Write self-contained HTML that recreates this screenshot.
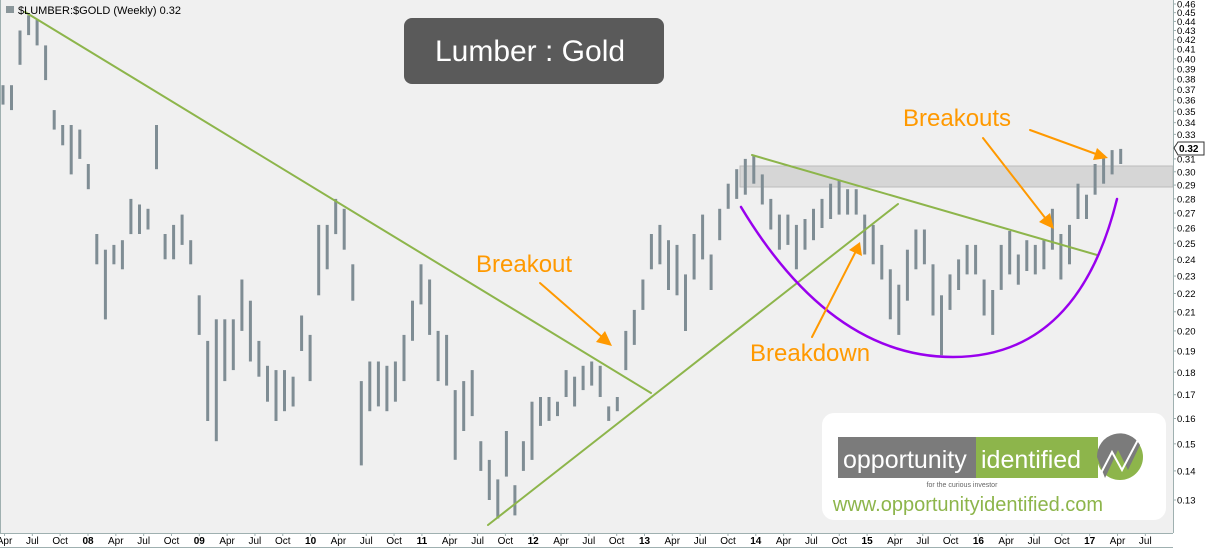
<!DOCTYPE html>
<html><head><meta charset="utf-8"><style>
body{margin:0;background:#fff;}
svg{display:block;font-family:"Liberation Sans",sans-serif;}
</style></head><body>
<svg id="chart" width="1208" height="548" viewBox="0 0 1208 548" xmlns="http://www.w3.org/2000/svg">
<rect x="0" y="0" width="1173" height="533" fill="#f0f0f0"/>
<g id="grid"></g>
<rect x="740" y="166" width="433" height="21" fill="#d6d6d6" stroke="#bcbcbc" stroke-width="1"/>
<g id="bars"></g>
<g stroke-linecap="round">
<line x1="25" y1="12" x2="651" y2="393" stroke="#8db54b" stroke-width="2"/>
<line x1="488" y1="525" x2="898" y2="204" stroke="#8db54b" stroke-width="2"/>
<line x1="752" y1="155" x2="1097" y2="255" stroke="#8db54b" stroke-width="2"/>
<path d="M741,207 C800,305 870,357 953,357 C1040,357 1092,300 1117,199" fill="none" stroke="#9900ee" stroke-width="2.5"/>
<g fill="#ff9900" stroke="#ff9900" stroke-width="2">
<line x1="540" y1="283" x2="602" y2="337"/><polygon stroke="none" points="612,346 596,342 605,331"/>
<line x1="812" y1="337" x2="855" y2="253"/><polygon stroke="none" points="860,242 849,250 862,256"/>
<line x1="983" y1="138" x2="1046" y2="219"/><polygon stroke="none" points="1054,229 1039,222 1050,213"/>
<line x1="1030" y1="130" x2="1096" y2="154"/><polygon stroke="none" points="1108,158 1093,160 1097,148"/>
</g>
<text x="476" y="272" font-size="24" fill="#ff9900">Breakout</text>
<text x="750" y="361" font-size="24" fill="#ff9900">Breakdown</text>
<text x="903" y="126" font-size="24" fill="#ff9900">Breakouts</text>
</g>
<g>
<rect x="404" y="18" width="260" height="66" rx="8" fill="#5a5a5a"/>
<text x="530" y="61" font-size="30" fill="#fff" text-anchor="middle">Lumber : Gold</text>
</g>
<g>
<rect x="822" y="413" width="344" height="107" rx="12" fill="#ffffff"/>
<rect x="838" y="437" width="138" height="41" fill="#7b7b7b"/>
<rect x="976" y="437" width="122" height="41" fill="#8db54b"/>
<text x="843" y="468" font-size="25" fill="#fff">opportunity</text>
<text x="981" y="468" font-size="25" fill="#fff">identified</text>
<circle cx="1120" cy="457" r="23" fill="#8db54b"/>
<path d="M1097,457 A23,23 0 0 1 1140,445 L1128,470 L1118,450 L1105,478 Z" fill="#7b7b7b"/>
<path d="M1100,475 L1112,452 L1122,470 L1140,436" fill="none" stroke="#fff" stroke-width="2"/>
<text x="962" y="487" font-size="7" fill="#666" text-anchor="middle">for the curious investor</text>
<text x="968" y="511" font-size="20" fill="#8db54b" text-anchor="middle">www.opportunityidentified.com</text>
</g>
<text x="18" y="14" font-size="11" font-family="Liberation Sans,sans-serif" fill="#000">$LUMBER:$GOLD (Weekly) 0.32</text>
<rect x="6" y="6" width="8" height="7" fill="#8a969a"/>
<line x1="1173.5" y1="0" x2="1173.5" y2="533" stroke="#9fb0b0"/>
<line x1="0" y1="533.5" x2="1173" y2="533.5" stroke="#9fb0b0"/>
<line x1="0" y1="547.5" x2="1173" y2="547.5" stroke="#9fb0b0"/>
<line x1="0.5" y1="0" x2="0.5" y2="533" stroke="#9fb0b0"/>
<g id="yaxis"></g>
<g id="xaxis"></g>
<g>
<polygon points="1174,148 1178,142 1204,142 1204,155 1178,155" fill="#fff" stroke="#333"/>
<text x="1179" y="152" font-size="10" font-weight="bold" fill="#000">0.32</text>
</g>
</svg>
<script>
const highs=[.374,.374,.430,.447,.442,.414,.351,.338,.338,.334,.306,.256,.246,.249,.252,.280,.276,.273,.338,.256,.262,.269,.252,.219,.195,.206,.206,.206,.228,.216,.195,.183,.181,.181,.178,.208,.198,.262,.262,.280,.273,.237,.176,.185,.185,.183,.185,.198,.216,.237,.228,.200,.198,.172,.176,.181,.151,.144,.137,.155,.135,.151,.167,.169,.169,.167,.181,.178,.183,.185,.183,.165,.169,.200,.211,.228,.256,.262,.252,.249,.231,.256,.269,.243,.273,.291,.302,.310,.313,.298,.280,.269,.269,.262,.266,.273,.280,.291,.294,.287,.287,.269,.262,.249,.234,.225,.246,.259,.259,.237,.219,.231,.240,.249,.249,.228,.222,.249,.258,.243,.252,.249,.252,.273,.256,.262,.291,.283,.306,.313,.317,.318];
const lows=[.356,.351,.394,.425,.414,.379,.334,.321,.298,.310,.287,.237,.206,.237,.234,.256,.256,.259,.302,.240,.240,.249,.237,.198,.159,.151,.176,.181,.200,.185,.178,.167,.159,.163,.165,.190,.176,.219,.234,.256,.246,.216,.142,.163,.165,.163,.167,.176,.195,.214,.198,.176,.174,.144,.155,.161,.140,.130,.124,.138,.125,.140,.144,.157,.159,.161,.169,.165,.172,.174,.169,.159,.163,.181,.193,.211,.234,.237,.222,.219,.200,.228,.240,.222,.252,.273,.280,.283,.291,.276,.259,.246,.249,.234,.246,.252,.260,.266,.269,.269,.269,.243,.237,.228,.206,.198,.216,.234,.237,.208,.188,.211,.222,.231,.231,.208,.198,.222,.231,.225,.233,.231,.234,.246,.228,.237,.266,.266,.283,.291,.298,.306];
const startYear=2007.236;
const stepYears=4/52.18;
const yTicks=[0.13,0.14,0.15,0.16,0.17,0.18,0.19,0.20,0.21,0.22,0.23,0.24,0.25,0.26,0.27,0.28,0.29,0.30,0.31,0.32,0.33,0.34,0.35,0.36,0.37,0.38,0.39,0.40,0.41,0.42,0.43,0.44,0.45,0.46];
const xYears=[2007,2008,2009,2010,2011,2012,2013,2014,2015,2016,2017];
const monthLabels=["Apr","Jul","Oct"];
const NS="http://www.w3.org/2000/svg";
function yOf(v){return 4+(Math.log(0.46)-Math.log(v))*392.5;}
function xOf(t){return 88+111.3*(t-2008);}
const bars=document.getElementById('bars');
for(let i=0;i<highs.length;i++){
  const x=xOf(startYear+i*stepYears);
  const r=document.createElementNS(NS,'rect');
  
  
  r.setAttribute('x',(x-1.5).toFixed(1));
  r.setAttribute('y',yOf(highs[i]).toFixed(1));
  r.setAttribute('width',3);
  r.setAttribute('height',Math.max(2,yOf(lows[i])-yOf(highs[i])).toFixed(1));
  r.setAttribute('fill','#7f8d94');
  bars.appendChild(r);
}
const ya=document.getElementById('yaxis');
yTicks.forEach(v=>{
  const y=yOf(v);
  const t=document.createElementNS(NS,'text');
  
  
  t.setAttribute('x',1177);t.setAttribute('y',(y+3.5).toFixed(1));
  t.setAttribute('font-size','9.5');t.setAttribute('fill','#000');
  t.textContent=v.toFixed(2);
  ya.appendChild(t);
  const l=document.createElementNS(NS,'line');
  
  
  l.setAttribute('x1',1173);l.setAttribute('x2',1176);l.setAttribute('y1',y);l.setAttribute('y2',y);
  l.setAttribute('stroke','#9fb0b0');ya.appendChild(l);
});
const xa=document.getElementById('xaxis');
function addX(label,t,bold){
  const x=xOf(t);
  if(x<0||x>1170)return;
  const tx=document.createElementNS(NS,'text');
  
  
  tx.setAttribute('x',x.toFixed(1));tx.setAttribute('y',544);
  tx.setAttribute('font-size','10');tx.setAttribute('text-anchor','middle');
  if(bold)tx.setAttribute('font-weight','bold');
  tx.textContent=label;xa.appendChild(tx);
  const l=document.createElementNS(NS,'line');
  
  
  l.setAttribute('x1',x);l.setAttribute('x2',x);l.setAttribute('y1',533);l.setAttribute('y2',536);
  l.setAttribute('stroke','#9fb0b0');xa.appendChild(l);
}
xYears.forEach(yr=>{
  if(yr>2007)addX(String(yr%100).padStart(2,'0'),yr,true);
  monthLabels.forEach((m,k)=>addX(m,yr+0.25*(k+1),false));
});
</script>
</body></html>
